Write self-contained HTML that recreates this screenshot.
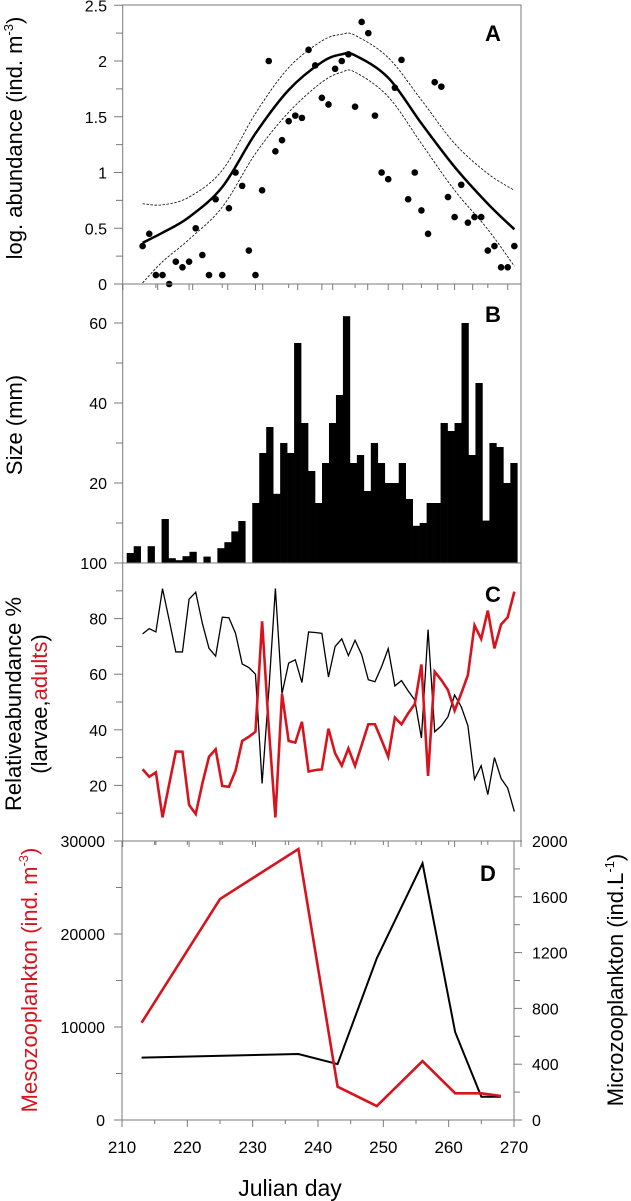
<!DOCTYPE html>
<html><head><meta charset="utf-8"><style>
html,body{margin:0;padding:0;background:#fff;}
svg{display:block;font-family:"Liberation Sans",Arial,sans-serif;}
</style></head><body>
<svg id="chart" width="631" height="1201" viewBox="0 0 631 1201" xmlns="http://www.w3.org/2000/svg"></svg>
<script>
// ---- Panel A data ----
const daysA = [213,214,215,216,217,218,219,220,221,222,223,224,225,226,227,228,229,230,231,232,233,234,235,236,237,238,239,240,241,242,243,244,245,246,247,248,249,250,251,252,253,254,255,256,257,258,259,260,261,262,263,264,265,266,267,268,269];
const abundA = [0.34,0.45,0.08,0.08,0,0.2,0.15,0.2,0.5,0.26,0.08,0.76,0.08,0.68,1.0,0.88,0.3,0.08,0.84,2.0,1.19,1.29,1.46,1.51,1.49,2.1,1.96,1.67,1.61,1.93,2.0,2.06,1.59,2.35,2.25,1.51,1.0,0.94,1.76,2.01,0.76,1.0,0.66,0.45,1.81,1.77,0.78,0.6,0.89,0.55,0.6,0.6,0.3,0.34,0.15,0.15,0.34];
const fitDays = [213,216,220,225,230,235,240,243,245,250,255,260,265,269];
const fitMid = [0.37,0.46,0.6,0.87,1.35,1.74,1.99,2.06,2.05,1.85,1.44,1.05,0.72,0.49];
const fitUpper = [0.72,0.71,0.78,1.02,1.53,1.94,2.18,2.24,2.23,2.03,1.65,1.26,0.99,0.84];
const fitLower = [0.01,0.2,0.4,0.69,1.17,1.54,1.81,1.9,1.9,1.68,1.26,0.84,0.49,0.16];
const ticksA = ["0","0.5","1","1.5","2","2.5"];
// ---- Panel B data ----
const sizeB = [2.5,4.2,0,4.2,0,11,1.2,0.7,1.7,2.8,0,1.6,0,3.7,5.2,7.9,10.5,0,15,27.5,34,17.3,30,27.5,55,35,23,15,25,35,42,61.7,25,27,18,30,25,20,20,25,16,9.3,10,15,15,35,33,35,60,27,45,10.6,30,29,20,25];
const ticksB = ["20","40","60"];
// ---- Panel C data ----
const daysC = daysA;
const larvaeC = [74.5,76.4,75.2,90.8,79.5,68,68,87,89.5,78.3,69.3,66.5,80.5,80.3,74.7,63.7,62.4,60,20.7,53.7,90.8,53,64,65.2,57,75.2,75,74.7,59,70,72.7,66.7,72.2,67,58,57.3,62.7,69.2,55.8,57.7,54,50.7,37,76,39.3,41.4,44.7,52.5,48.3,41.5,22.2,27.1,16.7,30,22.5,19,10.6];
const adultsC = [25.8,23.1,24.7,8.5,20.4,32.2,32.1,13,9.7,20.7,30.3,33,19.8,19.5,25.3,36,37.5,39.3,79,41,8.5,52.9,36,35.4,42.9,25,25.5,25.8,40.4,31.5,27.1,33.3,27,34.5,42,42,36.3,30.3,44.4,42,45.9,49.3,63.5,23.4,60.9,57.9,54.3,46.9,53.1,59.7,77.6,72.7,82.9,69.3,77.9,80.5,89.7];
const ticksC = ["20","40","60","80","100"];
// ---- Panel D data ----
const daysMeso = [213,225,237,243,249,256,261,265,268];
const meso = [10460,23760,29140,3580,1500,6340,2870,2870,2580];
const daysMicro = [213,237,243,249,256,261,265,268];
const micro = [447,473,401,1159,1840,629,167,167];
const ticksDL = ["0","10000","20000","30000"];
const ticksDR = ["0","400","800","1200","1600","2000"];
const ticksX = ["210","220","230","240","250","260","270"];

const svg = document.getElementById('chart');
const NS = 'http://www.w3.org/2000/svg';
function mk(tag, attrs, parent){const e=document.createElementNS(NS,tag);for(const k in attrs)e.setAttribute(k,attrs[k]);(parent||svg).appendChild(e);return e;}
const AX='#7a7a7a';
const xA = d => 122.7 + (d-210)*(398.3/60);
const yA = v => 284 - v*111.5;
const yB = v => 563 - v*4;
const yC = v => 841 - v*2.78;
const xD = d => 122 + (d-210)*(392/60);
const yDL = v => 1120 - v*279/30000;
const yDR = v => 1120 - v*279/2000;

function smooth(pts){let d='M'+pts[0][0]+','+pts[0][1];for(let i=0;i<pts.length-1;i++){const p0=pts[i-1]||pts[i],p1=pts[i],p2=pts[i+1],p3=pts[i+2]||p2;const c1=[p1[0]+(p2[0]-p0[0])/6,p1[1]+(p2[1]-p0[1])/6],c2=[p2[0]-(p3[0]-p1[0])/6,p2[1]-(p3[1]-p1[1])/6];d+=' C'+c1+' '+c2+' '+p2;}return d;}
function poly(xs,ys){return xs.map((x,i)=>[x,ys[i]]);}

function frame(top,bottom,left,right,name){
  const g=mk('g',{});
  
  
  mk('rect',{x:left,y:top,width:right-left,height:bottom-top,fill:'none',stroke:AX,'stroke-width':1},g);
  return g;
}
function text(x,y,s,opts,name){const t=mk('text',Object.assign({x:x,y:y,'font-size':16,fill:'#000'},opts||{}));t.textContent=s;return t;}

// ---------- Panel A ----------
frame(5,284,122.7,521,'panel-a');
for(let i=0;i<=10;i++){const y=yA(i*0.25);const l=mk('line',{x1:i%2?116:114,x2:122.7,y1:y,y2:y,stroke:AX});}
ticksA.forEach((t,i)=>text(107,yA(+t)+6,t,{'text-anchor':'end'},'y-tick-label-a'));
for(let d=210;d<=270;d+=5){const l=mk('line',{x1:xA(d),x2:xA(d),y1:284,y2:d%10?288:290,stroke:AX});}
let p=mk('path',{d:smooth(poly(fitDays.map(xA),fitUpper.map(yA))),fill:'none',stroke:'#000','stroke-width':0.8,'stroke-dasharray':'2.5,1.5'});

p=mk('path',{d:smooth(poly(fitDays.map(xA),fitLower.map(yA))),fill:'none',stroke:'#000','stroke-width':0.8,'stroke-dasharray':'2.5,1.5'});

p=mk('path',{d:smooth(poly(fitDays.map(xA),fitMid.map(yA))),fill:'none',stroke:'#000','stroke-width':2.5});

daysA.forEach((d,i)=>{const c=mk('circle',{cx:xA(d),cy:yA(abundA[i]),r:3.3,fill:'#000'});});
text(493,41,'A',{'font-size':22,'font-weight':'bold','text-anchor':'middle'},'panel-label-a');
let t=mk('text',{x:0,y:0,'font-size':22,'text-anchor':'middle',transform:'translate(22,138) rotate(-90)'});
t.innerHTML='log. abundance (ind. m<tspan font-size="13" dy="-9">-3</tspan><tspan dy="9">)</tspan>';


// ---------- Panel B ----------
frame(284,563,122.7,521,'panel-b');
for(let v=10;v<=60;v+=10){const y=yB(v);const l=mk('line',{x1:v%20?116:114,x2:122.7,y1:y,y2:y,stroke:AX});}
ticksB.forEach(t=>text(107,yB(+t)+6,t,{'text-anchor':'end'},'y-tick-label-b'));
const bx0=126.7,bx1=517.3,bw=(bx1-bx0)/sizeB.length;
for(let i=0;i<12;i++){const x=122.7+i*35;const l=mk('line',{x1:x,x2:x,y1:284,y2:290,stroke:AX});}
sizeB.forEach((v,i)=>{if(v<=0)return;const r=mk('rect',{x:bx0+i*bw,y:yB(v),width:bw+0.3,height:563-yB(v),fill:'#000'});});
text(493,322,'B',{'font-size':22,'font-weight':'bold','text-anchor':'middle'},'panel-label-b');
t=mk('text',{x:0,y:0,'font-size':22,'text-anchor':'middle',transform:'translate(22,425) rotate(-90)'});t.textContent='Size (mm)';


// ---------- Panel C ----------
frame(563,841,122.7,521,'panel-c');
for(let v=10;v<=100;v+=10){const y=yC(v);const l=mk('line',{x1:v%20?116:114,x2:122.7,y1:y,y2:y,stroke:AX});}
ticksC.forEach(t=>text(107,yC(+t)+6,t,{'text-anchor':'end'},'y-tick-label-c'));
for(let d=210;d<=270;d+=5){const l=mk('line',{x1:xA(d),x2:xA(d),y1:841,y2:d%10?845:847,stroke:AX});}
p=mk('polyline',{points:poly(daysC.map(xA),larvaeC.map(yC)).join(' '),fill:'none',stroke:'#000','stroke-width':1.3});

p=mk('polyline',{points:poly(daysC.map(xA),adultsC.map(yC)).join(' '),fill:'none',stroke:'#d7141e','stroke-width':2.6});

text(493,602,'C',{'font-size':22,'font-weight':'bold','text-anchor':'middle'},'panel-label-c');
t=mk('text',{x:0,y:0,'font-size':22,'text-anchor':'middle',transform:'translate(21,704) rotate(-90)'});t.textContent='Relativeabundance %';

t=mk('text',{x:0,y:0,'font-size':22,'text-anchor':'middle',transform:'translate(47,704) rotate(-90)'});
t.innerHTML='(larvae,<tspan fill="#d7141e">adults</tspan>)';


// ---------- Panel D ----------
frame(841,1120,122,514,'panel-d');
for(let v=0;v<=30000;v+=5000){const y=yDL(v);const l=mk('line',{x1:v%10000?116:114,x2:122,y1:y,y2:y,stroke:AX});}
ticksDL.forEach(t=>text(105,yDL(+t)+6,t,{'text-anchor':'end'},'y-tick-label-d-left'));
for(let v=0;v<=2000;v+=200){const y=yDR(v);const l=mk('line',{x1:514,x2:v%400?520:522,y1:y,y2:y,stroke:AX});}
ticksDR.forEach(t=>text(532,yDR(+t)+6,t,{'text-anchor':'start'},'y-tick-label-d-right'));
for(let d=210;d<=270;d+=5){const l=mk('line',{x1:xD(d),x2:xD(d),y1:1120,y2:d%10?1124:1127,stroke:AX});
 const l2=mk('line',{x1:xD(d),x2:xD(d),y1:841,y2:845,stroke:AX});}
ticksX.forEach(t=>text(xD(+t),1153,t,{'text-anchor':'middle','font-size':17},'x-tick-label'));
p=mk('polyline',{points:poly(daysMicro.map(xD),micro.map(yDR)).join(' '),fill:'none',stroke:'#000','stroke-width':2});

p=mk('polyline',{points:poly(daysMeso.map(xD),meso.map(yDL)).join(' '),fill:'none',stroke:'#d7141e','stroke-width':2.6});

text(488,881,'D',{'font-size':22,'font-weight':'bold','text-anchor':'middle'},'panel-label-d');
t=mk('text',{x:0,y:0,'font-size':22,'text-anchor':'middle',fill:'#d7141e',transform:'translate(37,980) rotate(-90)'});
t.innerHTML='Mesozooplankton (ind. m<tspan font-size="13" dy="-9">-3</tspan><tspan dy="9">)</tspan>';

t=mk('text',{x:0,y:0,'font-size':22,'text-anchor':'middle',transform:'translate(623,980) rotate(-90)'});
t.innerHTML='Microzooplankton (ind.L<tspan font-size="13" dy="-9">-1</tspan><tspan dy="9">)</tspan>';

text(290,1196,'Julian day',{'text-anchor':'middle','font-size':23},'x-axis-title');
</script>
</body></html>
